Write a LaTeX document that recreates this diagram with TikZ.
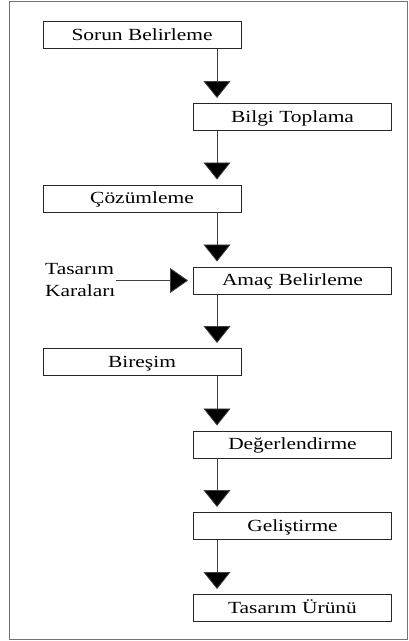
\documentclass[tikz,border=0pt]{standalone}
\usepackage{fontspec}
\setmainfont{Liberation Serif}
\usepackage{graphicx}
\usetikzlibrary{arrows.meta}
\newcommand{\wide}[1]{\scalebox{1.26}[1]{#1}}
\tikzset{
  stepbox/.style={draw=black!85, line width=0.9pt, minimum width=198pt, minimum height=27pt,
    inner sep=0pt, text height=13pt, text depth=3pt, font=\fontsize{17}{22}\selectfont},
  arr/.style={draw=black!75, line width=0.8pt, shorten >=5pt,
    -{Triangle[length=17pt,width=27pt,fill=black]}},
}
\begin{document}
\begin{tikzpicture}[x=1pt,y=-1pt]
\useasboundingbox (0,0) rectangle (409,641);
\draw[black!55, line width=1pt] (9,1.5) rectangle (407,639);
\coordinate (ax) at (217,0);
\node[stepbox] (sorun) at (142,35) {\wide{Sorun Belirleme}};
\node[stepbox] (bilgi) at (292.5,117) {\wide{Bilgi Toplama}};
\node[stepbox] (cozum) at (142,198.5) {\wide{Çözümleme}};
\node[stepbox] (amac) at (292.5,280.5) {\wide{Amaç Belirleme}};
\node[stepbox] (bires) at (142,362) {\wide{Bireşim}};
\node[stepbox] (deger) at (292.5,444.5) {\wide{Değerlendirme}};
\node[stepbox] (gelis) at (292.5,526) {\wide{Geliştirme}};
\node[stepbox] (urun) at (292.5,608) {\wide{Tasarım Ürünü}};
\node[anchor=north west, inner sep=0pt, align=left, font=\fontsize{17}{22}\selectfont] (tk) at (45,263)
  {\wide{Tasarım}\\\wide{Karaları}};
\draw[arr] (sorun.south -| ax) -- (bilgi.north -| ax);
\draw[arr] (bilgi.south -| ax) -- (cozum.north -| ax);
\draw[arr] (cozum.south -| ax) -- (amac.north -| ax);
\draw[arr] (amac.south -| ax) -- (bires.north -| ax);
\draw[arr] (bires.south -| ax) -- (deger.north -| ax);
\draw[arr] (deger.south -| ax) -- (gelis.north -| ax);
\draw[arr] (gelis.south -| ax) -- (urun.north -| ax);
\draw[arr, -{Triangle[length=18pt,width=25pt,fill=black]}] (tk.east |- amac.west) -- (amac.west);
\end{tikzpicture}
\end{document}
